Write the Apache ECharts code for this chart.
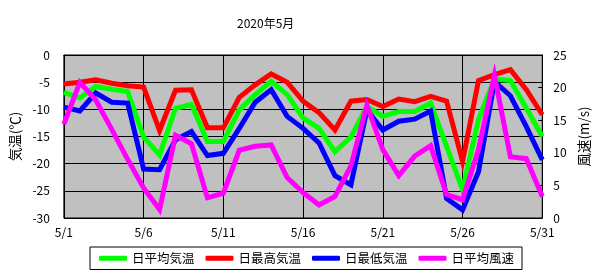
<!DOCTYPE html>
<html><head><meta charset="utf-8">
<script src="https://cdn.jsdelivr.net/npm/echarts@6/dist/echarts.min.js"></script>
<style>html,body{margin:0;padding:0;background:#fff}#c{width:599px;height:277px}</style>
</head><body><div id="c"></div>
<script>
const days = Array.from({length:31},(_,i)=>'5/'+(i+1));
const avgTemp = [-6.9,-7.9,-5.8,-6.3,-6.7,-15.1,-18.4,-9.8,-9.1,-15.9,-15.9,-10.1,-7.3,-4.85,-7.3,-11.6,-13.5,-17.8,-15.1,-9.5,-11.3,-10.4,-10.4,-8.85,-16.8,-24.8,-11.9,-4.4,-4.7,-9.8,-15.0];
const maxTemp = [-5.35,-5.0,-4.55,-5.2,-5.65,-5.9,-13.9,-6.5,-6.4,-13.4,-13.4,-7.8,-5.5,-3.5,-5.0,-8.5,-10.6,-13.8,-8.5,-8.2,-9.5,-8.1,-8.6,-7.6,-8.5,-19.6,-4.7,-3.6,-2.7,-6.4,-11.0];
const minTemp = [-9.6,-10.3,-7.0,-8.7,-8.85,-21.0,-21.1,-15.6,-14.1,-18.5,-18.1,-13.5,-8.7,-6.4,-11.3,-13.5,-16.2,-22.2,-23.9,-10.1,-13.8,-12.2,-11.8,-10.3,-26.4,-28.5,-21.5,-4.9,-7.5,-13.2,-19.3];
const windAvg = [14.4,20.8,18.1,13.6,9.0,4.6,1.3,12.7,11.4,3.1,3.8,10.4,11.0,11.2,6.2,3.9,2.0,3.3,8.0,17.3,10.5,6.5,9.5,11.1,3.6,2.8,10.5,21.9,9.4,9.1,3.3];
const names = ['日平均気温','日最高気温','日最低気温','日平均風速'];
const colors = ['#00ff00','#ff0000','#0000ff','#ff00ff'];

const font = "'Noto Sans CJK JP', sans-serif";
const chart = echarts.init(document.getElementById('c'), null, {renderer:'canvas'});
const showIdx = (i)=> i%5===0;
const mk = (k, data, yi)=>({
  name: names[k], type:'line', data, yAxisIndex: yi, symbol:'none',
  lineStyle:{color:colors[k], width:5, join:'miter'}, itemStyle:{color:colors[k]},
  animation:false, z: 2+k
});
chart.setOption({
  animation:false,
  title:{text:'2020年5月', left:232, top:12, textStyle:{fontFamily:font, fontSize:12, fontWeight:'normal', color:'#000'}},
  grid:{left:57, right:52, top:55, bottom:59, show:true, backgroundColor:'#c0c0c0', borderColor:'#000', borderWidth:1},
  legend:{
    data:names, left:90, top:247, orient:'horizontal',
    padding:[5,8,5,9], itemGap:11, itemWidth:28, itemHeight:5, icon:'roundRect',
    borderColor:'#000', borderWidth:1, borderRadius:0,
    textStyle:{fontFamily:font, fontSize:12.5, color:'#000'}
  },
  xAxis:{
    type:'category', data:days, boundaryGap:false,
    axisLine:{lineStyle:{color:'#000'}}, axisTick:{show:false},
    axisLabel:{interval:(i)=>showIdx(i), color:'#000', fontFamily:font, fontSize:12, margin:8},
    splitLine:{show:true, interval:(i)=>showIdx(i), lineStyle:{color:'#000', width:1}}
  },
  yAxis:[
    {type:'value', min:-30, max:0, interval:5, position:'left',
     name:'気温(℃)', nameLocation:'middle', nameRotate:90, nameGap:36,
     nameTextStyle:{fontFamily:font, fontSize:13.5, color:'#000'},
     axisLine:{show:true, lineStyle:{color:'#000'}}, axisTick:{show:false},
     axisLabel:{color:'#000', fontFamily:font, fontSize:12, margin:14},
     splitLine:{show:true, lineStyle:{color:'#000', width:1}}},
    {type:'value', min:0, max:25, interval:5, position:'right',
     name:'風速(m/s)', nameLocation:'middle', nameRotate:90, nameGap:32,
     nameTextStyle:{fontFamily:font, fontSize:13.5, color:'#000'},
     axisLine:{show:true, lineStyle:{color:'#000'}},
     axisTick:{show:true, inside:true, length:4, lineStyle:{color:'#000'}},
     axisLabel:{color:'#000', fontFamily:font, fontSize:12, margin:11},
     splitLine:{show:false}}
  ],
  series:[mk(0,avgTemp,0), mk(1,maxTemp,0), mk(2,minTemp,0), mk(3,windAvg,1)]
});
</script></body></html>
